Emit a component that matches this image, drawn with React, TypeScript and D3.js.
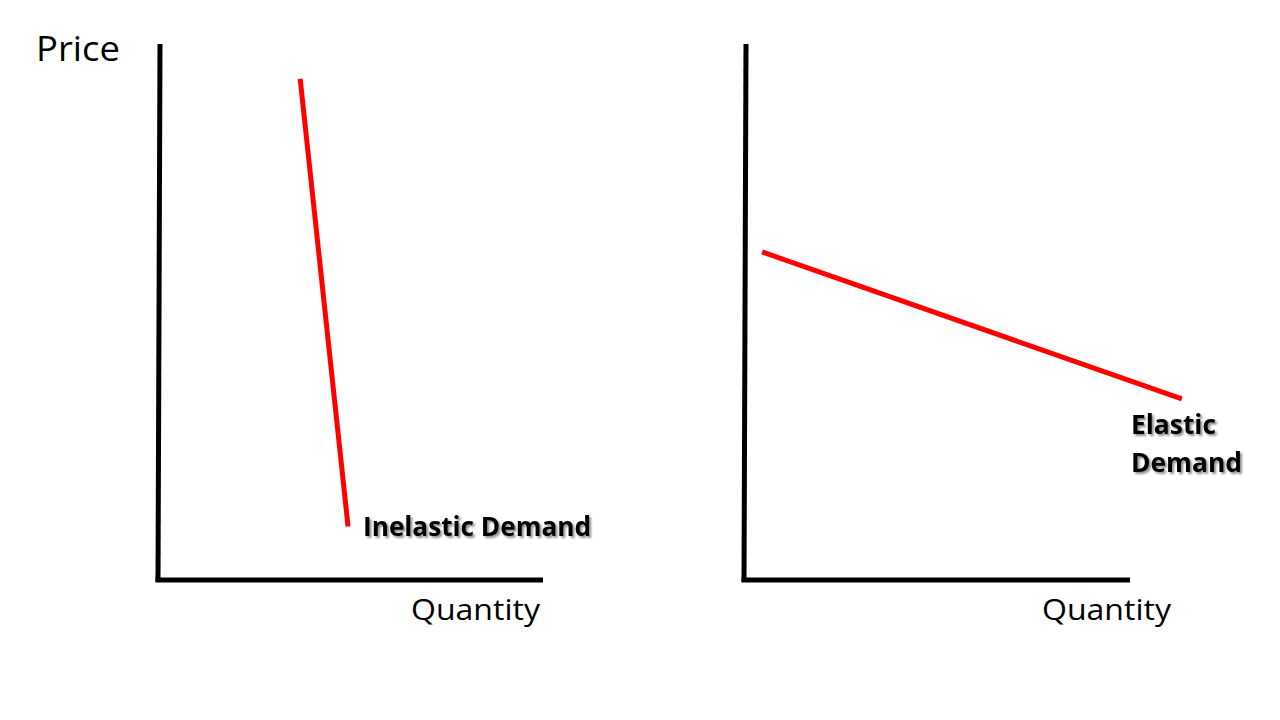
import React from "react";
import * as d3 from "d3";

const panels = ["inelastic", "elastic"];
const inelasticQ = [3.66, 4.91];
const inelasticP = [9.35, 1.0];
const elasticQ = [0.42, 11.35];
const elasticP = [6.12, 3.38];
const axisLabelX = "Quantity";
const axisLabelY = "Price";
const curveLabels = [["Inelastic Demand"], ["Elastic", "Demand"]];

const W = 1280, H = 720;
const FONT = "'Open Sans', sans-serif";

export default function App() {
  const y = d3.scaleLinear().domain([0, 10]).range([580, 44]);
  const xs = [
    d3.scaleLinear().domain([0, 10]).range([160, 543]),
    d3.scaleLinear().domain([0, 10]).range([746, 1130]),
  ];
  const series = [
    inelasticQ.map((q, i) => [q, inelasticP[i]]),
    elasticQ.map((q, i) => [q, elasticP[i]]),
  ];
  const line = (x: d3.ScaleLinear<number, number>) =>
    d3.line<number[]>().x((d) => x(d[0])).y((d) => y(d[1]));

  const labelPos = [
    { x: 363, y: [536], len: [228] },
    { x: 1131, y: [434, 472], len: [85, 111] },
  ];
  const quantityX = [411, 1042];

  return (
    <svg width={W} height={H} style={{ display: "block", position: "absolute", left: 0, top: 0 }}>
      <defs>
        <filter id="shadow" x="-10%" y="-30%" width="130%" height="170%">
          <feDropShadow dx="2" dy="2" stdDeviation="1.2" floodColor="#000" floodOpacity="0.45" />
        </filter>
      </defs>
      <rect width={W} height={H} fill="#fff" />
      {panels.map((p, i) => {
        const x = xs[i];
        return (
          <g key={p}>
            <path
              d={`M${x(0)},${y(10)} L${x(0) - 2},${y(0) + 2}`}
              stroke="#000"
              strokeWidth={5}
              fill="none"
            />
            <path
              d={`M${x(0) - 4.5},${y(0)} L${x(10)},${y(0)}`}
              stroke="#000"
              strokeWidth={5}
              fill="none"
            />
            <path d={line(x)(series[i]) || ""} stroke="#ff0000" strokeWidth={5} fill="none" />
            <text
              x={quantityX[i]}
              y={620}
              fontFamily={FONT}
              fontSize={30}
              textLength={129}
              lengthAdjust="spacingAndGlyphs"
              fill="#000"
            >
              {axisLabelX}
            </text>
            {curveLabels[i].map((t, j) => (
              <text
                key={t}
                x={labelPos[i].x}
                y={labelPos[i].y[j]}
                fontFamily={FONT}
                fontWeight="bold"
                fontSize={26.5}
                textLength={labelPos[i].len[j]}
                lengthAdjust="spacingAndGlyphs"
                fill="#000"
                filter="url(#shadow)"
              >
                {t}
              </text>
            ))}
          </g>
        );
      })}
      <text
        x={36}
        y={61}
        fontFamily={FONT}
        fontSize={34}
        textLength={84}
        lengthAdjust="spacingAndGlyphs"
        fill="#000"
      >
        {axisLabelY}
      </text>
    </svg>
  );
}
